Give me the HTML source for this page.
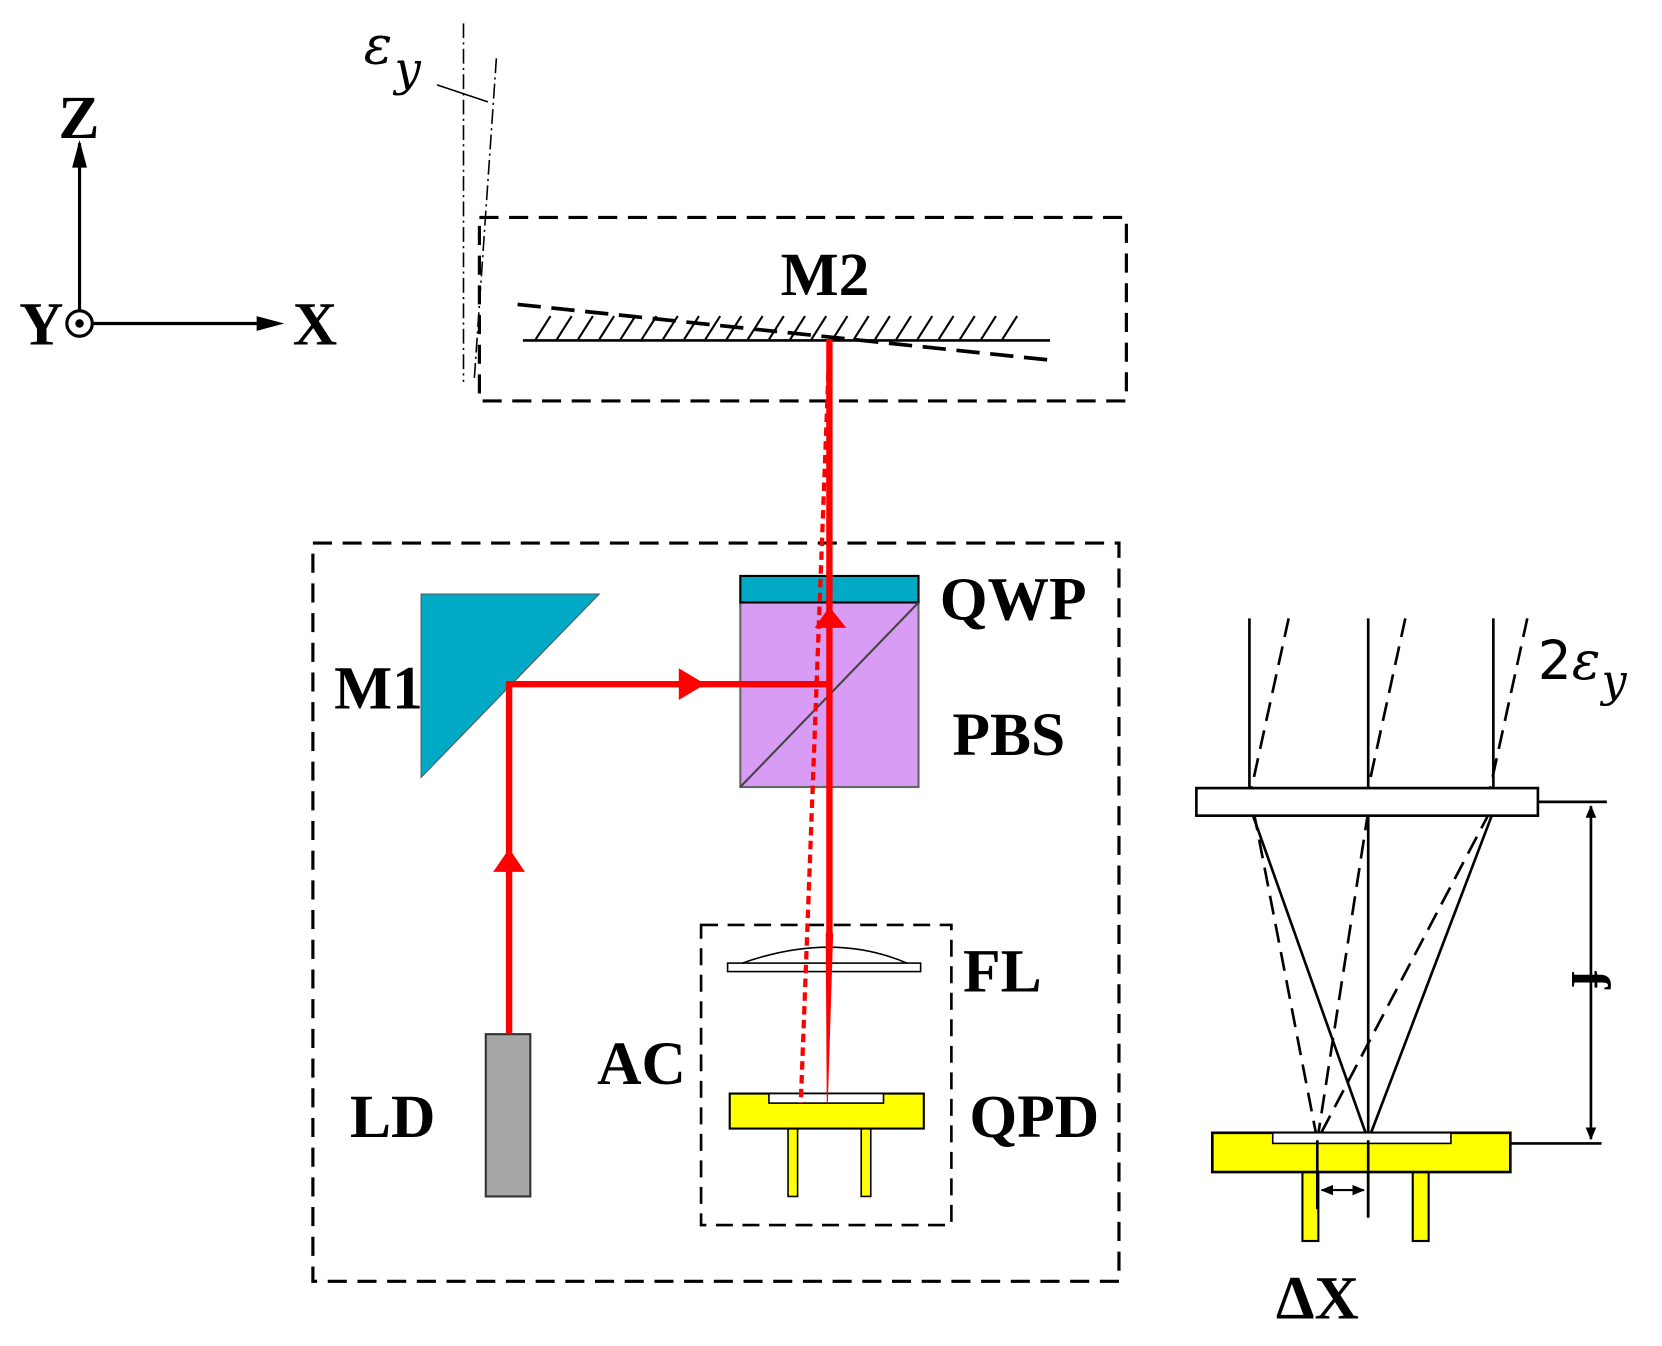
<!DOCTYPE html>
<html><head><meta charset="utf-8"><style>
html,body{margin:0;padding:0;background:#fff;}
svg{display:block;}
.b{font-family:"Liberation Serif",serif;font-weight:bold;fill:#000;}
.i{font-family:"DejaVu Serif","Liberation Serif",serif;font-style:italic;fill:#000;}
</style></head><body>
<svg width="1662" height="1346" viewBox="0 0 1567 1269" preserveAspectRatio="none" xmlns="http://www.w3.org/2000/svg">
<defs>
<marker id="ahs" markerWidth="12" markerHeight="12" refX="11" refY="6" orient="auto-start-reverse" markerUnits="userSpaceOnUse"><path d="M0,1 L12,6 L0,11 Z" fill="#000"/></marker>
</defs>
<!-- axes -->
<line x1="75" y1="293" x2="75" y2="135" stroke="#000" stroke-width="3"/>
<path d="M75,132 L68,158 L82,158 Z" fill="#000"/>
<line x1="88" y1="305" x2="250" y2="305" stroke="#000" stroke-width="3"/>
<path d="M268,305 L242,298 L242,312 Z" fill="#000"/>
<circle cx="75" cy="305" r="12" fill="#fff" stroke="#000" stroke-width="3"/>
<circle cx="75" cy="305" r="4" fill="#000"/>
<text x="55" y="130" class="b" font-size="58">Z</text>
<text x="276" y="325" class="b" font-size="58">X</text>
<text x="18" y="325" class="b" font-size="58">Y</text>
<!-- epsilon y top -->
<text x="343" y="60" class="i" font-size="50">ε</text>
<text x="372" y="80" class="i" font-size="44">y</text>
<line x1="412" y1="80" x2="460" y2="96" stroke="#000" stroke-width="1.5"/>
<line x1="437" y1="22" x2="437" y2="360" stroke="#000" stroke-width="1.5" stroke-dasharray="14,4,2,4"/>
<line x1="468" y1="55" x2="447" y2="360" stroke="#000" stroke-width="1.5" stroke-dasharray="14,4,2,4"/>
<!-- M2 box -->
<rect x="452" y="205" width="610" height="173" fill="none" stroke="#000" stroke-width="3" stroke-dasharray="18,10"/>
<text x="736" y="278" class="b" font-size="58">M2</text>
<line x1="493" y1="321" x2="990" y2="321" stroke="#000" stroke-width="2.5"/>
<g stroke="#000" stroke-width="2">
<path d="M505,320l14,-22M525,320l14,-22M545,320l14,-22M565,320l14,-22M585,320l14,-22M605,320l14,-22M625,320l14,-22M645,320l14,-22M665,320l14,-22M685,320l14,-22M705,320l14,-22M725,320l14,-22M745,320l14,-22M765,320l14,-22M785,320l14,-22M805,320l14,-22M825,320l14,-22M845,320l14,-22M865,320l14,-22M885,320l14,-22M905,320l14,-22M925,320l14,-22M945,320l14,-22"/>
</g>
<line x1="488" y1="287" x2="995" y2="340" stroke="#000" stroke-width="3.5" stroke-dasharray="22,10"/>
<!-- main dashed box -->
<rect x="295" y="512" width="760" height="696" fill="none" stroke="#000" stroke-width="3" stroke-dasharray="18,10"/>
<!-- M1 -->
<path d="M397,560 L565,560 L397,733 Z" fill="#00a9c4" stroke="#555" stroke-width="1"/>
<text x="315" y="668" class="b" font-size="58">M1</text>
<!-- QWP/PBS -->
<rect x="698" y="568" width="168" height="174" fill="#d99cf5" stroke="#666" stroke-width="2"/>
<rect x="698" y="543" width="168" height="25" fill="#00a9c4" stroke="#000" stroke-width="2"/>
<line x1="698" y1="742" x2="866" y2="568" stroke="#444" stroke-width="2"/>
<text x="886" y="584" class="b" font-size="58">QWP</text>
<text x="898" y="712" class="b" font-size="58">PBS</text>
<!-- AC box -->
<rect x="661" y="872" width="236" height="283" fill="none" stroke="#000" stroke-width="2.5" stroke-dasharray="16,9"/>
<rect x="686" y="908" width="182" height="8" fill="#fff" stroke="#000" stroke-width="1.5"/>
<path d="M700,908 Q785,878 855,908" fill="none" stroke="#000" stroke-width="1.5"/>
<text x="908" y="935" class="b" font-size="58">FL</text>
<text x="563" y="1022" class="b" font-size="58">AC</text>
<rect x="743" y="1064" width="9" height="64" fill="#ff0" stroke="#000" stroke-width="1.5"/>
<rect x="812" y="1064" width="9" height="64" fill="#ff0" stroke="#000" stroke-width="1.5"/>
<rect x="688" y="1031" width="183" height="33" fill="#ff0" stroke="#000" stroke-width="2"/>
<rect x="725" y="1031" width="108" height="9" fill="#fff" stroke="#000" stroke-width="1.5"/>
<text x="914" y="1072" class="b" font-size="58">QPD</text>
<!-- LD -->
<rect x="458" y="975" width="42" height="153" fill="#a6a6a6" stroke="#333" stroke-width="2"/>
<text x="330" y="1072" class="b" font-size="58">LD</text>
<!-- red beams -->
<g fill="none" stroke="#f00">
<polyline points="480,975 480,645 782,645" stroke-width="6"/>
<line x1="782" y1="320" x2="782" y2="880" stroke-width="6"/>
<path d="M779,880 L785,880 L780,1040 Z" fill="#f00" stroke-width="1"/>
<line x1="782" y1="325" x2="755" y2="1040" stroke-width="4" stroke-dasharray="8,5"/>
</g>
<path d="M480,800 L465,822 L495,822 Z" fill="#f00"/>
<path d="M665,645 L640,630 L640,660 Z" fill="#f00"/>
<path d="M782,572 L768,592 L798,592 Z" fill="#f00"/>
<!-- right diagram -->
<g stroke="#000" stroke-width="2.5" fill="none">
<line x1="1178" y1="583" x2="1178" y2="743"/>
<line x1="1290" y1="583" x2="1290" y2="743"/>
<line x1="1408" y1="583" x2="1408" y2="743"/>
<g stroke-dasharray="18,9">
<line x1="1215" y1="583" x2="1180" y2="743"/>
<line x1="1325" y1="583" x2="1290" y2="743"/>
<line x1="1440" y1="583" x2="1405" y2="743"/>
<line x1="1182" y1="765" x2="1242" y2="1075"/>
<line x1="1290" y1="765" x2="1242" y2="1075"/>
<line x1="1405" y1="765" x2="1242" y2="1075"/>
</g>
<line x1="1180" y1="765" x2="1290" y2="1075"/>
<line x1="1408" y1="765" x2="1290" y2="1075"/>
<line x1="1290" y1="769" x2="1290" y2="1148"/>
<line x1="1450" y1="756" x2="1515" y2="756"/>
<line x1="1290" y1="1078" x2="1510" y2="1078"/>
</g>
<rect x="1128" y="743" width="322" height="26" fill="#fff" stroke="#000" stroke-width="2.5"/>
<line x1="1500" y1="760" x2="1500" y2="1074" stroke="#000" stroke-width="2.5" marker-start="url(#ahs)" marker-end="url(#ahs)"/>
<text transform="translate(1482,915) rotate(90)" class="b" font-size="52">f</text>
<rect x="1228" y="1105" width="15" height="65" fill="#ff0" stroke="#000" stroke-width="2"/>
<rect x="1332" y="1105" width="15" height="65" fill="#ff0" stroke="#000" stroke-width="2"/>
<rect x="1143" y="1068" width="281" height="37" fill="#ff0" stroke="#000" stroke-width="2.5"/>
<rect x="1200" y="1068" width="168" height="10" fill="#fff" stroke="#000" stroke-width="1.5"/>
<line x1="1242" y1="1075" x2="1242" y2="1140" stroke="#000" stroke-width="2.5"/>
<line x1="1290" y1="1075" x2="1290" y2="1148" stroke="#000" stroke-width="2.5"/>
<line x1="1246" y1="1122" x2="1286" y2="1122" stroke="#000" stroke-width="2" marker-start="url(#ahs)" marker-end="url(#ahs)"/>
<text x="1203" y="1243" class="b" font-size="58">ΔX</text>
<text x="1450" y="640" font-family="DejaVu Sans,sans-serif" font-size="50" fill="#000">2</text>
<text x="1482" y="640" class="i" font-size="50">ε</text>
<text x="1510" y="656" class="i" font-size="42">y</text>
</svg>
</body></html>
